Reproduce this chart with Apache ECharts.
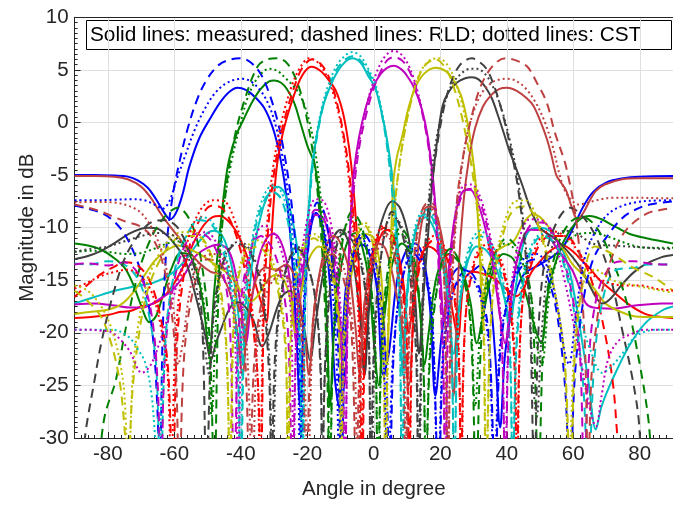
<!DOCTYPE html>
<html>
<head>
<meta charset="utf-8">
<script src="https://cdn.jsdelivr.net/npm/echarts@6.0.0/dist/echarts.min.js"></script>
<style>html,body{margin:0;padding:0;background:#fff}#chart{width:673px;height:505px}</style>
</head>
<body>
<div id="chart"></div>
<script>
// [angle in degree, magnitude in dB]; below -30 runs off the axis
var blueMeas = [[-90,-5.0],[-84,-5.0],[-78,-5.05],[-74,-5.15],[-71,-5.5],[-68,-6.2],[-65.5,-7.3],[-63,-8.6],[-61.3,-9.2],[-59.5,-8.6],[-57.5,-6.8],[-55.5,-4.2],[-52.5,-1.5],[-49,0.5],[-46,2.0],[-43.5,2.9],[-41,3.3],[-38.5,3.1],[-36,2.5],[-33,1.4],[-30.5,-0.4],[-28.5,-2.8],[-26.5,-6.5],[-24.8,-12],[-23.3,-20],[-22.2,-27],[-21,-18],[-19.5,-11],[-17.3,-8.6],[-15,-10.5],[-13.3,-15],[-11.8,-24],[-10.5,-27],[-8.5,-16],[-6,-12.5],[-3.5,-11.6],[-1,-12.8],[1,-16],[2.8,-24],[4.5,-22],[7,-15],[10,-12],[12.4,-11.5],[15,-13],[17,-18],[18.5,-26],[20.5,-20],[23,-15],[26,-13.8],[29,-14.2],[32,-13.6],[34.5,-15.5],[36.5,-22],[38,-29],[39.5,-22],[42,-17],[45,-14.5],[50,-13.5],[54,-12.7],[57,-11.8],[60,-10],[63,-8],[66,-6.6],[70,-5.7],[75,-5.3],[80,-5.15],[90,-5.1]];
var blueRld = [[-90,-7.9],[-86,-8.2],[-82,-8.6],[-78.5,-9.3],[-75,-10.6],[-72,-12.5],[-69.5,-14.8],[-67.5,-17.8],[-66,-22],[-65,-28],[-64.4,-34],[-63.5,-20],[-62.3,-11.6],[-60.5,-7],[-58.5,-3.8],[-56,-0.6],[-53,2.3],[-50,4.2],[-46.5,5.5],[-43,6.0],[-40,6.1],[-37,5.7],[-34,4.6],[-31.5,2.8],[-29,0.2],[-27,-2.8],[-25,-7],[-23.5,-12],[-22.5,-18],[-21.8,-34],[-20.5,-16],[-19,-10],[-17,-7.6],[-15,-8.5],[-13,-12],[-11,-19],[-9.8,-34],[-8.5,-20],[-6.5,-13],[-3.5,-10.5],[-1,-11.5],[1.5,-15],[3.5,-22],[4.8,-34],[6,-22],[8.5,-15],[12,-12.5],[15,-14],[17.5,-19],[19.5,-34],[21,-22],[24,-16],[28,-14],[31.5,-15.5],[34.5,-20],[36.5,-34],[38,-22],[41,-16],[45,-13.5],[49,-13],[52,-14.5],[55,-18],[57.5,-25],[59,-34],[60.5,-24],[63,-17],[66,-13],[70.7,-10.6],[74.7,-9.1],[78.6,-8.3],[83,-7.8],[90,-7.5]];
var blueCst = [[-90,-7.4],[-84,-7.4],[-78,-7.35],[-73,-7.3],[-69,-7.4],[-66,-7.8],[-63.5,-8.2],[-61.5,-7.5],[-59.5,-5.6],[-57,-3.4],[-54,-0.8],[-51,1.2],[-48,2.7],[-45,3.6],[-42,4.05],[-39.5,4.15],[-37,3.9],[-34,3.0],[-31.5,1.6],[-29.5,-0.3],[-27.5,-3.2],[-25.5,-7.5],[-24,-13],[-22.8,-22],[-22.2,-34],[-21,-17],[-19.5,-11],[-17.5,-8.6],[-15.5,-9.5],[-13.5,-13],[-11.5,-20],[-10.3,-34],[-9,-21],[-7,-14],[-4,-11],[-1.5,-12],[1,-15.5],[3,-23],[4.3,-34],[5.8,-22],[8.5,-15],[12,-12],[15,-13.5],[17.5,-18],[19.3,-34],[21,-21],[24,-16],[28,-14.5],[31.5,-16],[34.5,-21],[36.2,-34],[38,-21],[41,-16],[45,-13],[49,-12.5],[52.5,-14],[55.5,-18],[57.5,-22],[58.7,-23],[60.5,-19],[62.8,-13.8],[64.5,-11.8],[66.8,-10.3],[69,-9.2],[71.7,-8.4],[75,-7.9],[78.6,-7.6],[83,-7.45],[90,-7.4]];

var greenMeas = [[-90,-11.5],[-86,-11.7],[-82,-12.1],[-78.5,-12.8],[-75,-13.8],[-72.5,-15.3],[-70,-17.4],[-67.5,-19],[-65.5,-18.4],[-63.5,-16.5],[-61,-14],[-58,-12.4],[-55.5,-12.6],[-53,-14.5],[-51,-18],[-49.5,-22],[-48,-16],[-46,-9.5],[-44,-4.3],[-41.5,-1.3],[-39,0.4],[-36.5,2.0],[-34,3.2],[-31.5,3.9],[-30,4.0],[-28,3.8],[-26.2,3.2],[-24,1.9],[-22.2,0.1],[-20,-2.2],[-17.8,-4.0],[-16.3,-7.5],[-15,-12.5],[-14,-20],[-13.2,-27],[-12,-20],[-10,-14],[-7.5,-11],[-5.5,-10.5],[-3.5,-11.8],[-1.5,-15],[0.3,-22],[1.5,-25],[3,-19],[5.5,-13.5],[8.5,-11.5],[11,-12.5],[13.5,-16.5],[15.3,-23],[16.5,-20],[19,-14.5],[22.5,-12.5],[26,-13.5],[29,-17],[31,-21],[32.5,-19],[35.5,-14.5],[39,-12.5],[42,-13],[45,-15.5],[48,-19],[50.3,-21],[52.5,-16],[55.5,-12.5],[58.5,-10.5],[62,-9.2],[65,-8.9],[68.5,-9.2],[72,-9.8],[77,-10.6],[82,-11.0],[86.6,-11.3],[90,-11.5]];
var greenRld = [[-90,-38],[-86.5,-36],[-83.5,-34],[-81,-28],[-77.6,-24.5],[-74.7,-19.7],[-71,-14.5],[-67,-11],[-63,-9],[-59,-8.1],[-55,-9.5],[-52,-13],[-49.5,-20],[-48,-34],[-46.5,-14],[-44.5,-6.5],[-42,-1.6],[-39,2.0],[-35,5.3],[-32,6.0],[-29,6.1],[-26,5.6],[-23,3.8],[-20.7,1.2],[-18.5,-2.5],[-16.8,-7],[-15.2,-14],[-14,-24],[-13.3,-34],[-12,-20],[-9.5,-11.5],[-6.5,-8.5],[-3.5,-10],[-1,-15],[0.5,-22],[1.2,-34],[2.5,-20],[5,-12.5],[8,-10],[11,-11.5],[13.5,-16],[15,-24],[15.6,-34],[17,-22],[20,-14],[23,-12],[26,-13.5],[29,-19],[30.8,-34],[32.5,-20],[36,-13],[40,-11],[44,-12.5],[47.5,-17],[49.5,-34],[51.5,-18],[55,-12],[59,-9.5],[63,-9],[67,-10],[71,-12.5],[76,-17],[80,-23],[82.5,-28],[84.3,-34],[87,-37],[90,-40]];
var greenCst = [[-90,-12.3],[-85,-12.2],[-80,-12.3],[-75,-12.5],[-70,-12.4],[-66,-12],[-62,-11.5],[-58.5,-11.3],[-55,-12.5],[-52,-15.5],[-49.8,-21],[-48.8,-28],[-47.5,-19],[-45.5,-9],[-43,-4],[-40.5,-0.6],[-38,2.3],[-35.5,4.0],[-33,4.9],[-31.5,5.1],[-29,4.9],[-26.5,4.2],[-24,3.4],[-22.2,2.6],[-20,0.8],[-18,-2],[-16.5,-5.5],[-15,-11],[-14,-18],[-13.2,-34],[-12,-19],[-9.5,-11],[-6.5,-9],[-3.5,-10.5],[-1,-15],[0.5,-22],[1.3,-34],[2.5,-21],[5,-13],[8,-10.5],[11,-12],[13.5,-16.5],[15,-24],[15.7,-34],[17,-21],[20,-14],[23,-12],[26,-13.5],[29,-18.5],[30.5,-27],[32,-20],[35,-13.5],[39.5,-11.5],[43.5,-12.5],[47,-16],[49,-21],[50.5,-23],[53,-16],[56.5,-12],[61.8,-10.6],[65.8,-10.5],[71.7,-11.0],[77,-11.6],[81.6,-11.9],[86.6,-11.9],[90,-11.9]];

var redMeas = [[-90,-18.6],[-85,-18.5],[-80,-18.3],[-76,-18.0],[-73,-17.9],[-70,-17.5],[-67,-17.3],[-64,-16.8],[-60.5,-15.5],[-57,-13.5],[-54,-11.3],[-51,-9.7],[-48.5,-9.0],[-46.5,-8.9],[-44,-9.3],[-41.5,-10.3],[-39,-12],[-37,-13.8],[-35,-16],[-33.5,-17.5],[-32.3,-19],[-31.3,-14],[-30.2,-8],[-29.1,-4.0],[-27.5,-1.2],[-26.2,0.4],[-24,2.6],[-21.5,4.5],[-18.8,5.3],[-16,4.9],[-13.5,4.0],[-11.4,3.0],[-9.5,1.2],[-8.0,-1.2],[-6.8,-4.0],[-5.8,-7.5],[-4.8,-12],[-3.8,-18],[-2.8,-24],[-1.8,-18],[0,-13],[2.5,-10.5],[4.5,-10.2],[7,-12],[9,-15.5],[10.5,-20],[11.5,-18],[13.5,-13.5],[16.5,-11.8],[19.5,-12.5],[22,-15],[24,-18.5],[25.3,-20.5],[27.2,-15],[30,-14.2],[33,-14.4],[36,-14.8],[39,-15.6],[41,-16.2],[43,-16.5],[45,-15.8],[47.5,-14.2],[50,-13.2],[53.5,-12.1],[56.9,-11.7],[60,-12.3],[62.5,-13.1],[64.8,-13.8],[68,-15],[71.7,-16],[76.7,-17.3],[81.6,-18.2],[86.6,-18.5],[90,-18.6]];
var redRld = [[-90,-16.6],[-86,-15.4],[-82,-14.4],[-78.6,-13.8],[-74.5,-13.3],[-71,-13.6],[-67.5,-15],[-64.5,-18],[-62,-23],[-60.5,-34],[-59,-20],[-56,-12.5],[-52,-9],[-48.5,-7.9],[-45.5,-8.2],[-42,-10.2],[-38.8,-14],[-36.3,-19.5],[-34.8,-25],[-34,-34],[-33,-17],[-31.5,-9],[-30,-4.8],[-28.5,-2],[-26.5,0.7],[-24,3.3],[-21.5,5.2],[-18.5,6.0],[-15.5,5.4],[-13,3.9],[-10.8,1.5],[-9,-1.3],[-7.5,-4.5],[-6.2,-8.5],[-5.2,-13],[-4.3,-19],[-3.5,-34],[-2.4,-19],[0,-12.5],[3,-10],[6,-11.5],[8.5,-15.5],[10,-22],[10.6,-34],[11.8,-19],[14.5,-12.8],[18,-11.2],[21.5,-12.5],[24,-16],[25.6,-23],[26.2,-34],[27.5,-19],[30.5,-13.2],[34,-12],[37.5,-13],[40.5,-16.5],[42.3,-23],[43,-34],[44.5,-18],[48.5,-12.5],[53,-10.8],[57.5,-10.8],[62,-12.5],[66,-15.5],[69.5,-20],[72,-25],[73.3,-30],[74.5,-34],[78,-37],[84,-39],[90,-40]];
var redCst = [[-90,-15.8],[-86,-15.2],[-82,-14.6],[-78,-14.2],[-74,-14.0],[-70.5,-14.5],[-67,-16],[-64,-19.5],[-62,-24],[-61,-34],[-59.5,-20],[-56.5,-12],[-52.5,-8.5],[-48.5,-7.4],[-45,-7.5],[-42,-9.2],[-39,-12.5],[-36.5,-18],[-35,-24],[-34.2,-34],[-33.2,-16],[-31.8,-8.5],[-30.3,-4.3],[-28.8,-1.5],[-26.8,1.3],[-24.3,3.8],[-22,5.3],[-19.5,6.1],[-16.8,5.7],[-14,4.3],[-11.5,2.0],[-9.5,-0.8],[-8,-4],[-6.7,-8],[-5.6,-12.8],[-4.6,-19],[-3.8,-34],[-2.6,-19],[-0.2,-12],[3,-9.8],[6,-11.2],[8.5,-15],[10,-21],[10.7,-34],[11.9,-18.5],[14.5,-12.3],[18,-10.8],[21.5,-12],[24,-15.5],[25.6,-22],[26.3,-34],[27.6,-18.5],[30.5,-12.8],[34,-11.6],[37.5,-12.5],[40.5,-16],[42.4,-22],[43.1,-34],[44.6,-17.5],[48.5,-12],[53,-10.3],[57.5,-10.8],[62,-12.5],[66,-14.5],[70.5,-15.2],[75,-15.5],[80,-15.5],[85,-15.8],[90,-16]];

var cyanMeas = [[-90,-17.2],[-84,-16.6],[-78,-16.0],[-72,-15.6],[-66,-15.2],[-61,-14.4],[-57,-13.2],[-53,-11.5],[-50,-10.5],[-48,-10.3],[-46,-10.6],[-44,-12],[-42,-15],[-40.5,-19],[-39.3,-23],[-38,-18],[-36,-12],[-33.5,-8.3],[-31,-6.5],[-29,-6.1],[-27,-6.6],[-25,-8.5],[-23,-12],[-21.6,-16],[-20.4,-11],[-19.3,-7.2],[-18.8,-4.7],[-17.3,-1.5],[-15.5,1.3],[-13.4,3.2],[-11,4.8],[-8.5,5.8],[-6.4,6.1],[-4,5.7],[-1.8,4.5],[0.5,3.2],[2.3,1.0],[3.9,-1.5],[5.4,-4.7],[6.3,-7.5],[7.2,-12],[8,-18],[8.7,-24],[9.6,-18],[11,-13],[13,-10],[15.5,-9],[18,-10],[20.5,-13],[22.5,-17.5],[24,-22],[25.5,-18],[28,-13.5],[31,-11.8],[34,-12.2],[37,-14],[39.5,-17],[41,-19],[42.5,-16],[45,-11.5],[47.5,-10.1],[50,-10],[52.9,-10.3],[55,-11.2],[56.9,-12.2],[58.8,-14],[60.8,-17.2],[62.5,-20.5],[64.5,-24.5],[66.8,-29.2],[68.5,-27],[71.7,-24.5],[76.7,-21.3],[81.6,-19.1],[86.6,-17.9],[90,-17.5]];
var cyanRld = [[-90,-13.4],[-85.5,-13.5],[-80,-13.2],[-76,-13.4],[-73,-14],[-70,-15.5],[-67.5,-18.5],[-65.5,-23],[-64.2,-34],[-62.5,-20],[-59.5,-13.5],[-56,-10.5],[-52,-9.3],[-48.5,-9.8],[-45.5,-12],[-43,-16],[-41,-22],[-40,-34],[-38.8,-19],[-36.5,-11.5],[-33.5,-7.8],[-30.5,-6.6],[-28,-7.2],[-25.5,-10],[-23.5,-15],[-22.2,-22],[-21.6,-34],[-20.5,-14],[-19.2,-7],[-17.8,-2.8],[-15.5,1.2],[-13.4,3.4],[-11,5.1],[-8.5,6.0],[-6.4,6.3],[-4,5.9],[-1.5,4.7],[0.8,3.0],[2.7,0.3],[4.2,-2.8],[5.5,-6.5],[6.8,-12],[7.8,-19],[8.5,-34],[9.5,-20],[11.5,-12],[14,-9],[16.5,-8.7],[19,-10.5],[21.5,-14.5],[23.3,-21],[24.2,-34],[25.5,-19],[28.5,-12.5],[32,-10.8],[35.5,-12],[38.5,-15],[40.8,-21],[41.8,-34],[43.2,-20],[46.5,-13],[50.5,-10.8],[54.5,-11.5],[58,-14.5],[61,-19.5],[63,-25],[64.5,-34],[66.5,-22],[69.5,-16],[73,-14],[78.6,-13.8],[82.5,-13.5],[86.6,-13.5],[90,-13.5]];
var cyanCst = [[-90,-19.7],[-85,-19.7],[-78.6,-19.7],[-73.7,-20.4],[-70.5,-21.8],[-68.7,-22.9],[-67,-25.5],[-66,-29],[-65,-34],[-63.5,-24],[-61.5,-17],[-58.5,-12.5],[-55,-10],[-51.5,-9],[-48.5,-9.5],[-45.5,-11.5],[-43,-15],[-41.2,-20],[-40.2,-34],[-39,-18],[-36.5,-11],[-33.5,-7.3],[-30.5,-6],[-28,-6.5],[-25.5,-9],[-23.5,-14],[-22.2,-21],[-21.5,-34],[-20.4,-13],[-19.2,-6.5],[-17.8,-2.3],[-15.5,1.6],[-13.4,3.8],[-11,5.5],[-8.5,6.4],[-6.4,6.7],[-4,6.3],[-1.5,5.0],[0.8,3.3],[2.7,0.6],[4.2,-2.5],[5.5,-6.2],[6.8,-11.5],[7.8,-19],[8.5,-34],[9.6,-19],[11.5,-11.5],[14,-8.6],[16.5,-8.3],[19,-10],[21.5,-14],[23.3,-20],[24.2,-34],[25.5,-18],[28.5,-12],[32,-10.3],[35.5,-11.5],[38.5,-14.5],[40.8,-20],[41.8,-34],[43.2,-19],[46.5,-12.5],[50.5,-10.6],[54.5,-11.5],[58.5,-14.5],[62,-18.5],[65,-21.5],[68.7,-23.8],[71.5,-23.2],[74.7,-22],[78.6,-20.4],[82.5,-19.8],[86.6,-19.7],[90,-19.7]];

var magentaMeas = [[-90,-17.3],[-84,-17.2],[-78,-17.4],[-73,-17.6],[-69.5,-17.6],[-67,-17.3],[-64,-16.7],[-60.8,-16],[-57,-14.5],[-53.9,-12.8],[-50,-11.9],[-46.5,-11.6],[-43.5,-12.3],[-41.5,-14.5],[-39.8,-18],[-38.5,-21],[-37,-17.5],[-34.5,-12.8],[-32,-10.9],[-30,-10.6],[-28,-11.3],[-26,-13.5],[-24.5,-17],[-23.3,-21],[-22,-16.5],[-20,-11.2],[-17.5,-8.8],[-15,-9.2],[-12.8,-12],[-11,-16.5],[-9.8,-22],[-8.8,-25],[-7.8,-15],[-6.9,-8.5],[-6.0,-4.7],[-4.5,-1.5],[-2.5,1.3],[-0.5,3.2],[2,4.6],[4,5.2],[6,5.4],[8.5,5.0],[10.5,4.2],[12.3,3.2],[14.5,1.2],[16.3,-1.5],[17.8,-5.3],[18.9,-9.5],[20,-14.5],[21.2,-19],[22.5,-14],[24.5,-8.8],[27,-6.5],[29,-6.4],[31,-7.4],[33.5,-10],[36,-14],[38,-18.5],[39.5,-21],[41,-17.5],[43.5,-12.5],[47,-10.2],[50.9,-10.3],[54.9,-11.9],[57.5,-13],[59.8,-14.1],[62,-15.8],[63.8,-17.2],[66,-17.6],[71.7,-17.7],[78.6,-17.4],[86.6,-17.2],[90,-17.2]];
var magentaRld = [[-90,-13.5],[-86,-13.4],[-80,-13.6],[-75,-13.3],[-72,-13.9],[-69,-15.5],[-66.5,-19],[-65,-25],[-64,-34],[-62.8,-22],[-60,-15],[-56.5,-11.5],[-52.5,-10.5],[-49,-11.2],[-46,-13.5],[-43.5,-18],[-42,-34],[-40.5,-19],[-37.5,-12.5],[-34,-10.8],[-30.8,-11.8],[-28,-14.5],[-25.8,-20],[-24.5,-34],[-23,-18],[-20.5,-11.5],[-17.5,-8.3],[-15,-8.6],[-12.5,-11.5],[-10.5,-17],[-9.3,-24],[-8.7,-34],[-7.8,-17],[-6.8,-9],[-5.6,-5.2],[-4.3,-2.2],[-2.5,0.5],[-0.3,3],[2,4.8],[4,5.9],[6,6.2],[8.5,5.9],[10.5,5.0],[12.5,3.5],[14.5,1.0],[16.3,-2],[17.8,-6],[19,-11],[20,-17],[20.8,-22],[21.5,-34],[22.5,-17],[24.5,-9.5],[27,-6.6],[29.5,-6.3],[32,-7.6],[34.5,-10.5],[36.8,-15],[38.5,-21],[39.6,-34],[40.8,-19],[43.5,-12.5],[47,-9.8],[50.5,-9.5],[54,-10.5],[57.5,-13.5],[60,-17],[62,-22],[63.3,-34],[64.8,-22],[67.5,-16],[71.7,-13.5],[75,-13.2],[78.6,-13.2],[82.5,-13.4],[86.6,-13.5],[90,-13.5]];
var magentaCst = [[-90,-19.7],[-86,-19.7],[-82,-19.8],[-78.6,-20],[-73.7,-21.6],[-69.7,-23.8],[-67,-23],[-64,-20.5],[-61,-17.5],[-58,-14],[-54.5,-11.5],[-50.5,-10.4],[-46.5,-12],[-43.5,-15.5],[-41.8,-20],[-40.8,-34],[-39.5,-18],[-36.5,-11.5],[-33,-9.8],[-29.5,-10.8],[-26.5,-14],[-24.8,-19],[-24.2,-34],[-23,-17],[-20.5,-10],[-17.5,-7.3],[-15,-7.5],[-12.5,-10.3],[-10.5,-15.5],[-9.4,-22],[-8.7,-34],[-7.7,-16],[-6.6,-8],[-5.4,-4],[-4.0,-1.2],[-2.2,1.6],[0,4],[2,5.6],[4,6.5],[6,6.8],[8.5,6.4],[10.5,5.4],[12.5,3.7],[14.5,1.2],[16.3,-1.8],[17.8,-5.8],[19,-10.5],[20,-16],[20.9,-22],[21.6,-34],[22.6,-16],[24.5,-8.8],[27,-6],[29.5,-5.9],[32,-7.1],[34.5,-10],[36.8,-14.5],[38.5,-20],[39.5,-34],[40.8,-18],[43.5,-11.5],[47,-9.2],[50.5,-9.3],[54,-11],[57,-14.5],[60,-19],[62.5,-23],[64.5,-26.5],[66.8,-28.9],[68.5,-26],[70.5,-22.5],[73.5,-20.8],[77.6,-20.1],[81.6,-19.7],[86.6,-19.7],[90,-19.7]];

var yellowMeas = [[-90,-18.2],[-85,-18.0],[-80,-17.8],[-76,-17.3],[-72,-16],[-68.5,-14.3],[-65.5,-13.0],[-62,-12.1],[-58.8,-11.7],[-55,-12.1],[-50.9,-12.8],[-47.5,-13.6],[-45,-14.1],[-43,-14.6],[-41,-15.5],[-39,-16.5],[-37,-17],[-35,-16.5],[-32,-15],[-29.5,-14.5],[-27,-15],[-25,-17],[-23.6,-20],[-22,-16.5],[-19.5,-13],[-16.5,-11.8],[-13.5,-13],[-11.5,-15.5],[-10,-19.5],[-9,-21],[-7.5,-16],[-5,-12],[-2.5,-10.6],[0,-11],[1.8,-13.5],[2.8,-17],[3.8,-23],[4.6,-18],[5.2,-11],[5.9,-5.6],[7,-3.2],[8.4,-1.5],[10.3,1.2],[12.3,3.2],[15,4.6],[18.5,5.2],[21.5,4.9],[24,4.0],[26.2,2.6],[28,0.3],[29.3,-2.2],[30.3,-4.8],[31.2,-8.5],[32,-13.5],[32.8,-19],[33.8,-15],[36,-12.5],[39,-11.8],[42,-11.3],[45,-9.6],[47.9,-8.7],[50,-9],[52,-9.7],[54.9,-11],[57.5,-12.3],[59.8,-13.5],[63,-14.5],[66.8,-16],[70,-17.3],[76.7,-18.3],[81,-18.5],[86.6,-18.5],[90,-18.5]];
var yellowRld = [[-90,-16],[-86,-17],[-82,-18.5],[-79,-21],[-76.5,-24.5],[-75,-29],[-74,-34],[-72.7,-26],[-71,-21],[-68.5,-16.5],[-65,-13.5],[-61,-11.5],[-57.5,-10.8],[-53,-10.8],[-49,-12.5],[-46,-16],[-44.2,-22],[-43.3,-34],[-41.8,-17],[-38.5,-12.5],[-35,-11.8],[-31.5,-13],[-28.5,-16.5],[-26.5,-22],[-25.8,-34],[-24.5,-18],[-21.5,-12.3],[-18,-11],[-14.5,-12.5],[-12,-15.5],[-10.3,-21],[-9.8,-34],[-8.5,-18],[-5.5,-11.3],[-2.8,-9.8],[0,-12],[2.2,-18],[3,-24],[3.5,-34],[4.3,-19],[5.3,-12],[6.4,-7.5],[7.7,-4],[9.2,-1],[11,1.7],[13.2,4.1],[15.6,5.5],[18.5,6.0],[21.5,5.2],[24,3.4],[26.3,0.8],[28.3,-2.2],[29.8,-5],[31.3,-9],[32.8,-17],[33.8,-34],[34.8,-22],[36.3,-15],[39,-10.5],[42,-8.3],[45.5,-8.0],[48.5,-9],[52,-12.8],[55.5,-18],[57.5,-23],[59.2,-34],[60.5,-22],[63,-15],[66.5,-11.8],[71.7,-12.5],[78,-13.8],[83.5,-14.6],[87,-15.3],[90,-16]];
var yellowCst = [[-90,-15.5],[-86,-16],[-82,-17.5],[-79,-19.5],[-76.5,-22.5],[-75,-26],[-73.8,-34],[-72.5,-24],[-70.5,-18.5],[-67.5,-14.5],[-63.5,-12],[-59,-10.5],[-54.5,-10.4],[-50.5,-11.8],[-47,-15],[-44.5,-21],[-43.2,-34],[-41.7,-16.5],[-38.5,-12],[-35,-11.2],[-31.5,-12.3],[-28.5,-15.8],[-26.5,-21],[-25.9,-34],[-24.6,-17.5],[-21.5,-11.8],[-18,-10.6],[-14.5,-12],[-12,-15],[-10.4,-20.5],[-9.9,-34],[-8.6,-17.5],[-5.5,-10.8],[-2.8,-9.5],[0,-11.5],[2.1,-17],[3,-23],[3.6,-34],[4.5,-18],[5.6,-11],[6.8,-6.5],[8.2,-3],[9.8,0],[11.8,2.8],[14,4.8],[16.8,5.9],[19.5,6.1],[22.3,5.4],[24.6,3.8],[26.8,1.4],[28.7,-1.5],[30.2,-4.5],[31.6,-8.5],[32.9,-15],[33.9,-34],[35,-20],[36.6,-13.5],[39.3,-9.5],[42.5,-7.5],[45.5,-7.4],[48.5,-8.6],[52,-12.3],[55,-17],[57.3,-22],[58.8,-34],[60.2,-22],[62.8,-15.5],[66.5,-14],[71.7,-15],[78.6,-15.5],[86.6,-16],[90,-16.2]];

var grayMeas = [[-90,-13.0],[-86,-12.7],[-82,-12.2],[-78.6,-11.6],[-73.7,-10.6],[-70,-10.1],[-67.7,-10.0],[-65,-10.1],[-62,-10.8],[-59.8,-11.6],[-57.5,-12.6],[-55.9,-13.8],[-54,-16],[-52,-18.5],[-50.5,-20.5],[-49,-22.6],[-47.5,-21],[-46,-19.7],[-43,-17.5],[-40.5,-17.1],[-38,-17.8],[-36,-19],[-33.6,-21.3],[-31.5,-20],[-29.5,-18],[-27.5,-16.5],[-25.2,-16],[-23,-17],[-21,-19.5],[-19.2,-22.6],[-17.5,-19],[-15,-14],[-12.5,-11.2],[-10,-10.2],[-7.8,-11.2],[-5.8,-14],[-4,-19],[-2.8,-24],[-1.5,-18],[0.5,-12],[3,-8.8],[5.5,-7.5],[8,-8.2],[10.5,-11],[12.3,-16],[13.6,-22],[14.8,-17],[16.5,-10],[18,-4.5],[19.3,-1.2],[20.7,1.6],[22.5,2.9],[25,3.8],[27.5,4.2],[29.5,4.3],[31.5,4.1],[33.5,3.4],[35.5,2.3],[37.1,0.9],[39,-0.9],[40.7,-2.6],[42,-3.7],[44.5,-5.8],[47,-8.1],[49.9,-10],[53.9,-10.9],[57,-11.8],[59.8,-12.8],[62.5,-14],[64.8,-15.4],[67,-16.7],[68.7,-17.2],[71,-16.8],[74.7,-15.4],[78,-14.3],[81.6,-13.5],[86.6,-12.8],[90,-12.6]];
var grayRld = [[-90,-36],[-88.5,-34],[-86.5,-29],[-84,-24.5],[-82,-21],[-79,-17],[-75,-13],[-71,-10.8],[-67,-9.5],[-63,-9.3],[-59,-10],[-55,-12.8],[-52,-17],[-50.3,-34],[-48.5,-19],[-45,-13],[-41,-11.5],[-37,-12.5],[-33.5,-16.5],[-31.5,-24],[-30.8,-34],[-29.5,-21],[-26.5,-14],[-23,-12],[-20,-13.5],[-17.5,-17],[-16,-24],[-15.5,-34],[-14.5,-22],[-12,-13],[-9,-10.5],[-6,-11.5],[-3,-15],[-1.5,-21],[-1,-34],[0.2,-20],[2.5,-12],[5.5,-8.5],[8.5,-10.5],[11,-15],[12.7,-22],[13.4,-34],[14.5,-18],[16,-9.5],[18,-4.5],[20.5,0.5],[23,3.6],[26,5.5],[29.5,6.1],[32,5.7],[34.1,5.0],[36.5,3.2],[39.1,0.4],[41.5,-3],[43.5,-6.5],[45.5,-12],[47,-19],[48.3,-34],[49.5,-20],[51.5,-13],[55,-9.5],[59,-8.1],[63,-9],[67,-11],[71,-14.5],[74.7,-19.7],[77.6,-24],[79.6,-28],[81,-34],[84,-37],[90,-40]];
var grayCst = [[-90,-12.3],[-85,-12.0],[-80,-11.8],[-75,-11.3],[-70,-10.8],[-65.5,-10.5],[-61.5,-10.6],[-57,-12],[-53.5,-15.5],[-51,-21],[-49.5,-24],[-48,-18],[-44.5,-12.5],[-40.5,-11.3],[-36.5,-12.5],[-33.5,-16],[-31.5,-22],[-30.5,-34],[-29,-20],[-26,-13.5],[-23,-11.8],[-20,-13.5],[-17.5,-17],[-16,-23],[-15.5,-34],[-14.5,-22],[-12,-12.5],[-9,-10.2],[-6,-11],[-3,-14.5],[-1.5,-20],[-0.8,-34],[0.5,-20],[2.5,-12],[5.5,-8.8],[8.5,-10],[11,-14],[12.8,-20],[13.5,-34],[14.8,-18],[16.5,-7.5],[18.5,-2.2],[21,1.5],[23.5,3.6],[26.5,4.7],[29,5.1],[31,5.1],[33.5,4.6],[36,3.3],[38.5,1.2],[41,-1.8],[43,-4.8],[45,-9.5],[46.5,-15],[48,-25],[49,-28],[50.5,-20],[52.5,-13.5],[54.9,-10.8],[57.5,-10.3],[60.8,-10.5],[63.5,-11.1],[66.8,-11.6],[71.7,-11.7],[77,-11.8],[82,-11.9],[86.6,-12.0],[90,-12.0]];

var brownMeas = [[-90,-5.1],[-84,-5.1],[-78,-5.15],[-74,-5.4],[-70,-6.1],[-67,-7.2],[-64,-8.7],[-61,-10],[-58,-11.2],[-55,-12.5],[-52,-13.5],[-49,-14.2],[-46,-14.5],[-43,-16.5],[-41,-20],[-39.5,-24],[-38,-19],[-35.5,-15],[-32.5,-13.8],[-29.5,-14],[-26.5,-13.5],[-23.5,-15],[-21,-19.5],[-19.5,-24],[-18,-18],[-15.5,-13],[-13.5,-11.2],[-12,-10.8],[-10,-11.5],[-7.5,-14],[-5.5,-19.5],[-4.3,-24],[-3,-18],[-1,-13],[1.5,-11.5],[3.5,-12],[6,-15],[8.5,-19.5],[10.5,-25],[12,-18],[13.5,-11.5],[15.5,-8.2],[17.3,-8.0],[19.5,-9.5],[21.5,-13],[23,-19.5],[24,-26],[25.5,-14],[27,-7.5],[28.7,-3.3],[30.5,-0.5],[32.8,1.5],[35.3,2.6],[37.8,3.2],[40.1,3.3],[43,3.0],[46,2.3],[48,1.6],[50,0.2],[52,-1.5],[53.5,-3.2],[54.9,-5.0],[56.5,-5.8],[57.9,-6.5],[59.5,-8.0],[61.3,-9.2],[63,-8.6],[65,-7.4],[66.8,-6.5],[69.5,-5.9],[74.7,-5.4],[80,-5.3],[86.6,-5.3],[90,-5.3]];
var brownRld = [[-90,-7.8],[-86,-8.1],[-82.6,-8.4],[-78,-9.0],[-74,-9.5],[-70.7,-9.8],[-67,-10.8],[-64,-12.8],[-61.5,-16.5],[-59.7,-22],[-58.5,-34],[-57,-22],[-54,-15.5],[-50,-13],[-46,-13.5],[-42,-16],[-39,-21],[-37.3,-34],[-35.8,-22],[-32.5,-15.5],[-28.5,-14],[-24.5,-15.5],[-21.8,-20],[-20.3,-34],[-18.8,-21],[-16,-14],[-12.5,-12.5],[-9,-15],[-6.7,-20],[-5.3,-34],[-4,-21],[-1.5,-14.5],[1,-11.5],[3.5,-10.5],[6,-12.5],[8.5,-18],[9.5,-34],[10.7,-19],[13,-10.5],[15.5,-7.8],[17.5,-7.7],[19.5,-9.5],[21.2,-15],[22.3,-34],[23.3,-17],[25,-7.5],[27,-3],[29,0],[31.5,2.9],[34,4.6],[36.8,5.7],[39.6,6.1],[42.8,5.9],[46.2,5.3],[49,3.8],[52,1.9],[54.4,-0.9],[57.4,-3.7],[58.4,-5.0],[60,-7.5],[61.5,-11],[62.6,-16],[63.6,-22],[64.5,-34],[65.5,-24],[67.5,-18],[69.5,-15],[72,-12.5],[75,-10.6],[78.6,-9.4],[82.6,-8.6],[86.6,-8.3],[90,-8.1]];
var brownCst = [[-90,-7.6],[-84,-7.55],[-78.6,-7.6],[-74,-7.9],[-70,-8.6],[-66.5,-10.2],[-63.5,-12.5],[-61.5,-15.5],[-59.8,-19],[-58.8,-23],[-57.5,-21],[-55,-15.5],[-52,-13],[-48.5,-12.5],[-45,-13],[-41.5,-15.5],[-38.5,-20],[-36.5,-34],[-35,-21],[-32,-16],[-28,-14.5],[-24.5,-15.5],[-21.5,-20],[-19.8,-34],[-18.3,-20],[-15.5,-13.5],[-12,-12],[-8.5,-14.5],[-6,-21],[-4.8,-34],[-3.5,-22],[-1,-15],[1.5,-11.8],[4,-10.8],[6.5,-13],[8.8,-19],[9.8,-34],[11,-18],[13.5,-9.8],[15.8,-8.0],[17.8,-8.4],[19.8,-10.5],[21.3,-16],[22.2,-34],[23.3,-17],[25,-8.5],[26.5,-4.2],[28,-1.3],[30,1.0],[32.5,2.8],[35.5,3.8],[38,4.1],[40.1,4.15],[42.5,4.0],[45.5,3.3],[48.5,2.0],[51.5,0.0],[54,-2.5],[55.9,-5.0],[57.5,-6.5],[59.5,-7.4],[61.5,-7.8],[63.5,-7.7],[67,-7.4],[71.7,-7.15],[78,-7.15],[86.6,-7.2],[90,-7.2]];

var beams = [
  {color: '#0000ff', lines: [blueMeas, blueRld, blueCst]},
  {color: '#008000', lines: [greenMeas, greenRld, greenCst]},
  {color: '#ff0000', lines: [redMeas, redRld, redCst]},
  {color: '#00bfbf', lines: [cyanMeas, cyanRld, cyanCst]},
  {color: '#bf00bf', lines: [magentaMeas, magentaRld, magentaCst]},
  {color: '#bfbf00', lines: [yellowMeas, yellowRld, yellowCst]},
  {color: '#404040', lines: [grayMeas, grayRld, grayCst]},
  {color: '#bf4040', lines: [brownMeas, brownRld, brownCst]}
];
var lineTypes = ['solid', [9, 6], [2, 3]];
var noteText = 'Solid lines: measured; dashed lines: RLD; dotted lines: CST';

var font = "'Liberation Sans', Arial, Helvetica, sans-serif";
var axisColor = '#262626';

var chart = echarts.init(document.getElementById('chart'));

var series = [];
lineTypes.forEach(function (t, k) {
  beams.forEach(function (b) {
    series.push({
      type: 'line',
      data: b.lines[k],
      showSymbol: false,
      symbol: 'none',
      smooth: 0.35,
      clip: true,
      lineStyle: {color: b.color, width: 2, type: t},
      silent: true
    });
  });
});

var option = {
  animation: false,
  grid: {left: 74.6, right: -8.6, top: 17.3, bottom: 64, containLabel: false},
  xAxis: [{
    type: 'value', min: -90, max: 90, splitNumber: 9,
    name: 'Angle in degree', nameLocation: 'middle', nameGap: 41, nameMoveOverlap: false,
    nameTextStyle: {color: axisColor, fontSize: 20.5, fontFamily: font},
    axisLine: {onZero: false, lineStyle: {color: axisColor, width: 1}},
    axisTick: {inside: true, length: 6, lineStyle: {color: axisColor}},
    axisLabel: {color: axisColor, fontSize: 20.5, fontFamily: font, margin: 6, showMinLabel: false, showMaxLabel: false},
    splitLine: {show: true, lineStyle: {color: '#dfdfdf', width: 1}}
  }, {
    type: 'value', min: -90, max: 90, interval: 2, position: 'bottom',
    axisLine: {show: false, onZero: false},
    axisTick: {inside: true, length: 3, lineStyle: {color: axisColor}},
    axisLabel: {show: false},
    splitLine: {show: false}
  }, {
    type: 'value', min: -90, max: 90, position: 'top',
    axisLine: {onZero: false, lineStyle: {color: axisColor, width: 1}},
    axisTick: {show: false}, axisLabel: {show: false}, splitLine: {show: false}
  }],
  yAxis: [{
    type: 'value', min: -30, max: 10, interval: 5,
    name: 'Magnitude in dB', nameLocation: 'middle', nameGap: 37, nameMoveOverlap: false,
    nameTextStyle: {color: axisColor, fontSize: 20.5, fontFamily: font},
    axisLine: {show: true, onZero: false, lineStyle: {color: axisColor, width: 1}},
    axisTick: {show: true, inside: true, length: 6, lineStyle: {color: axisColor}},
    axisLabel: {color: axisColor, fontSize: 20.5, fontFamily: font, margin: 6},
    splitLine: {show: true, lineStyle: {color: '#dfdfdf', width: 1}}
  }, {
    type: 'value', min: -30, max: 10, interval: 0.5, position: 'left',
    axisLine: {show: false, onZero: false},
    axisTick: {show: true, inside: true, length: 3, lineStyle: {color: axisColor}},
    axisLabel: {show: false},
    splitLine: {show: false}
  }],
  graphic: [{
    type: 'group', z: 100,
    children: [{
      type: 'rect',
      shape: {x: 86.5, y: 20.5, width: 585, height: 29},
      style: {fill: '#ffffff', stroke: '#000000', lineWidth: 1}
    }, {
      type: 'text',
      style: {x: 90, y: 35.5, text: noteText, fill: '#000000', font: '20.8px ' + font, verticalAlign: 'middle'}
    }]
  }],
  series: series
};
chart.setOption(option);
window.addEventListener('resize', function () { chart.resize(); });
</script>
</body>
</html>
